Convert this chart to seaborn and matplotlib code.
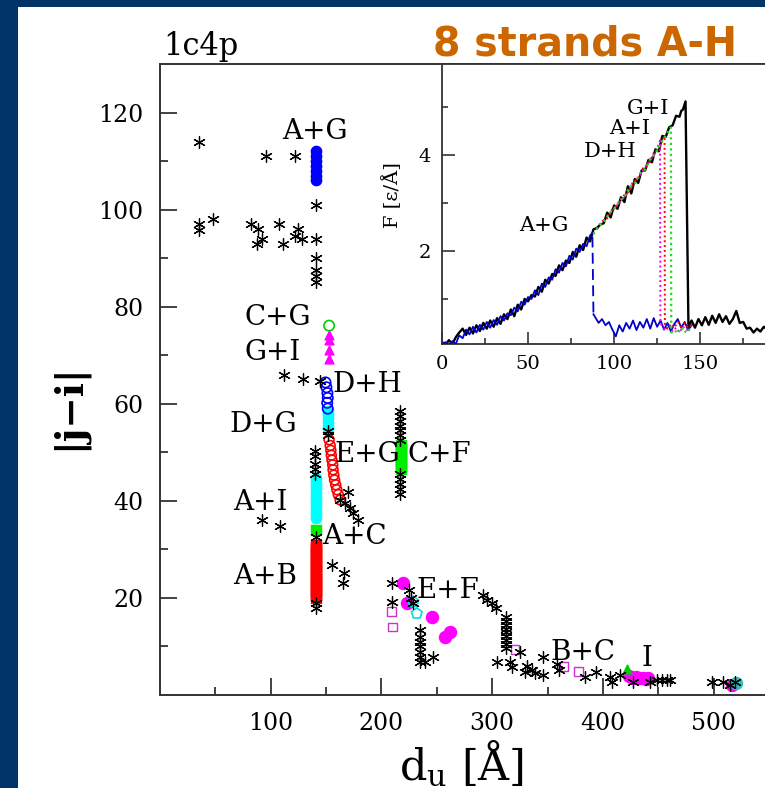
import matplotlib
matplotlib.use("Agg")
import matplotlib.pyplot as plt
from matplotlib.patches import Rectangle
from matplotlib.ticker import FixedLocator
import seaborn as sns

# ---------------- data: main panel ----------------
ast_x = [35.5, 95.5, 122, 140.6, 35, 35.5, 47.6, 82, 88.8, 92.4, 87.3, 107.8, 111.4, 122, 125, 128.6,
         140.6, 140.6, 140.6, 140.6, 140.6,
         112, 129.5, 144.5, 151.5, 152, 140, 140, 140, 140, 140,
         170, 162.6, 167, 171.6, 174.6, 179, 92, 108.4, 141,
         141, 141, 155, 166.5, 165.6, 209.3, 209.3, 225, 226.7, 228.8,
         234.9, 234.9, 234.9, 234.9, 234.9, 234.9, 234.9, 247, 239.4,
         292, 295, 299.6, 303.5,
         312.6, 312.6, 312.6, 312.6, 312.6, 312.6, 312.6, 312.6, 312.6,
         304, 316, 317.7, 325, 331, 335.8, 329.7, 338.7, 346, 345.7, 358.3, 360.7,
         384, 394, 406, 415, 408, 427.6, 442.6, 448.6, 453, 457.7, 460.7,
         498.4, 508.8, 514.9, 519.4,
         217, 217, 217, 217, 217, 217, 217, 217, 217, 217, 217, 217]
ast_y = [114, 111, 111, 101, 97, 95.8, 98, 97, 96, 94, 93, 97, 93, 94.5, 96, 94,
         94, 90, 87.5, 86.3, 85,
         66, 65, 64.6, 54.3, 53.6, 50.3, 49.3, 47.6, 46.6, 45.6,
         41.9, 40.2, 39.5, 38.5, 37.5, 36, 36, 34.8, 32.6,
         19, 17.9, 26.8, 25.1, 23, 23, 19.2, 21.6, 19.9, 18.9,
         13.4, 12, 11, 10, 8.9, 7.9, 6.9, 7.9, 6.9,
         20.5, 19.5, 18.9, 17.9,
         16.1, 15.3, 14.5, 13.7, 12.9, 12.1, 11.3, 10.5, 9.7,
         6.9, 6.9, 5.8, 8.9, 6, 5.2, 4.8, 4.6, 7.9, 4.1, 6.4, 5.2,
         3.8, 4.8, 3.8, 4.1, 2.7, 2.7, 2.7, 3.1, 3.1, 3.1, 3.1,
         2.7, 2.7, 2.1, 2.6,
         58.5, 57.5, 56.5, 55.5, 54.5, 53.5, 52.5, 45.5, 44.5, 43.5, 42.5, 41.5]

ag_x = [140.8] * 7
ag_y = [106, 107, 108, 109, 110, 111, 112]

cg_x = [152.7]
cg_y = [76.1]

gi_x = [152.7, 152.7, 152.7, 152.7]
gi_y = [69.2, 71.1, 73.2, 74.2]

dh_x = [149.5, 150.3, 151.2, 151.5, 151.0, 151.5]
dh_y = [64.4, 63.4, 62.2, 61.2, 60.2, 59.0]

dg_x = [152, 152, 152, 152, 152, 152]
dg_y = [58.6, 57.8, 57.0, 56.2, 55.4, 54.8]

ai_x = [140.5] * 12
ai_y = [44.7, 44.0, 43.3, 42.6, 41.8, 41.0, 40.2, 39.5, 38.7, 38.0, 37.2, 36.5]

eg_x = [152.7, 153.7, 154.3, 154.7, 155.3, 156.0, 156.3, 157.0, 157.7, 158.7, 159.7, 161.0, 162.7]
eg_y = [52.6, 51.4, 50.4, 49.4, 48.4, 47.4, 46.4, 45.3, 44.3, 43.3, 42.3, 41.3, 40.2]

ac_x = [140.6]
ac_y = [34.0]

ab_x = [141] * 23
ab_y = [20, 20.5, 21, 21.5, 22, 22.5, 23, 23.5, 24, 24.5, 25, 25.5, 26, 26.5, 27,
        27.5, 28, 28.5, 29, 29.5, 30, 30.5, 31]

cf_x = [217.4] * 11
cf_y = [46.5, 47, 47.5, 48, 48.5, 49, 49.5, 50, 50.5, 51, 51.5]

ef_x = [219.8, 222.8, 245.4, 257.5, 262,
        424, 427, 430, 433, 436, 439, 441, 517]
ef_y = [23, 18.9, 16, 12, 13,
        4.0, 3.6, 3.8, 3.4, 3.6, 3.2, 3.4, 2.0]

bc_x = [209.3, 210, 320.7, 364.9, 377.9]
bc_y = [17.2, 14, 9.3, 5.8, 4.8]

pent_x = [228.8, 231.9]
pent_y = [19.2, 16.8]

tri_g_x = [421.5]
tri_g_y = [5.3]

cy_end_x = [520]
cy_end_y = [2.4]

labels_main = ["A+G", "C+G", "G+I", "D+H", "D+G", "E+G", "C+F", "A+I", "A+C", "A+B", "E+F", "B+C", "I"]
labels_x = [140, 106.6, 102, 187, 93, 187, 252, 91, 176, 95, 260, 382, 440]
labels_y = [116, 77.7, 70.5, 63.9, 55.7, 49.5, 49.5, 39.6, 32.6, 24.5, 21.6, 8.7, 7.6]

main_xticks = [100, 200, 300, 400, 500]
main_yticks = [20, 40, 60, 80, 100, 120]

# ---------------- data: inset force curves ----------------
blk_x = [0, 2, 4, 6, 8, 10, 12, 14, 16, 18, 20, 22, 24, 26, 28, 30, 32, 34, 36, 38, 40, 42, 44, 46, 48,
         50, 52, 54, 56, 58, 60, 62, 64, 66, 68, 70, 72, 74, 76, 78, 80, 82, 84, 86, 88, 90, 92, 94, 96, 98,
         100, 102, 104, 106, 108, 110, 112, 114, 116, 118, 120, 122, 124, 126, 128, 130, 132, 134, 136, 138,
         139, 140, 141.5, 143.2, 145, 147, 149, 151, 153, 155, 157, 159, 161, 163, 165, 167, 169, 171, 173,
         175, 177, 179, 181, 183, 185, 187, 189, 191]
blk_y = [0.10, 0.04, 0.14, 0.06, 0.20, 0.30, 0.38, 0.25, 0.40, 0.28, 0.45, 0.33, 0.50, 0.38, 0.55, 0.42,
         0.60, 0.48, 0.68, 0.58, 0.78, 0.64, 0.88, 0.78, 1.00, 0.95, 1.08, 1.05, 1.25, 1.15, 1.40, 1.32,
         1.52, 1.48, 1.70, 1.60, 1.80, 1.75, 1.98, 1.88, 2.12, 2.02, 2.28, 2.20, 2.45, 2.48, 2.55, 2.58,
         2.80, 2.70, 2.95, 2.88, 3.12, 3.02, 3.35, 3.20, 3.50, 3.42, 3.68, 3.68, 3.90, 3.85, 4.12, 4.08,
         4.40, 4.38, 4.58, 4.62, 4.82, 4.80, 4.92, 4.95, 5.12, 0.42, 0.55, 0.40, 0.58, 0.45, 0.62, 0.46,
         0.65, 0.50, 0.68, 0.52, 0.64, 0.48, 0.58, 0.75, 0.50, 0.52, 0.38, 0.40, 0.30, 0.38, 0.32, 0.42,
         0.36, 0.44]

blu_x = [0, 2, 4, 6, 8, 10, 12, 14, 16, 18, 20, 22, 24, 26, 28, 30, 32, 34, 36, 38, 40, 42, 44, 46, 48,
         50, 52, 54, 56, 58, 60, 62, 64, 66, 68, 70, 72, 74, 76, 78, 80, 82, 84, 86, 87.3]
blu_y = [0.04, 0.10, 0.03, 0.12, 0.06, 0.24, 0.18, 0.36, 0.26, 0.42, 0.30, 0.46, 0.36, 0.52, 0.40,
         0.56, 0.46, 0.64, 0.55, 0.70, 0.66, 0.82, 0.74, 0.94, 0.88, 1.04, 1.00, 1.18, 1.08, 1.32, 1.25,
         1.45, 1.40, 1.62, 1.55, 1.75, 1.68, 1.90, 1.82, 2.05, 1.98, 2.15, 2.10, 2.32, 2.38]
blu_drop_x = [87.4, 88.0]
blu_drop_y = [2.30, 0.68]
blu2_x = [88, 89, 91, 93, 95, 97, 99, 101, 103, 105, 107, 109, 111, 113, 115, 117, 119, 121, 123, 125,
          127, 129, 131, 133, 135, 137, 139, 141, 143, 145]
blu2_y = [0.68, 0.62, 0.50, 0.58, 0.45, 0.52, 0.36, 0.22, 0.45, 0.32, 0.50, 0.38, 0.55, 0.35, 0.52,
          0.40, 0.58, 0.38, 0.60, 0.42, 0.55, 0.36, 0.50, 0.32, 0.48, 0.58, 0.40, 0.52, 0.35, 0.45]

grn_x = [88, 91, 94, 97, 100, 103, 106, 109, 112, 115, 118, 121, 124, 127, 130, 133, 133.2, 135, 137,
         139, 141, 143, 145]
grn_y = [2.35, 2.52, 2.60, 2.78, 2.88, 3.04, 3.12, 3.34, 3.40, 3.62, 3.70, 3.92, 4.02, 4.24, 4.40,
         4.58, 0.30, 0.35, 0.28, 0.40, 0.30, 0.38, 0.30]
red_x = [90, 93, 96, 99, 102, 105, 108, 111, 114, 117, 120, 123, 126, 129.3, 129.5, 131, 133, 135,
         137, 139, 141, 143, 145]
red_y = [2.45, 2.62, 2.68, 2.88, 2.95, 3.14, 3.22, 3.44, 3.50, 3.74, 3.80, 4.04, 4.12, 4.40, 0.45,
         0.38, 0.48, 0.40, 0.52, 0.42, 0.50, 0.40, 0.45]
mag_x = [92, 96, 100, 104, 108, 112, 116, 120, 124, 126.7, 126.9, 128, 130, 132, 134, 136, 138, 140,
         142, 144]
mag_y = [2.55, 2.72, 2.88, 3.05, 3.22, 3.45, 3.62, 3.85, 4.05, 4.30, 0.50, 0.42, 0.35, 0.45, 0.32,
         0.40, 0.30, 0.42, 0.35, 0.40]

labels_inset = ["G+I", "A+I", "D+H", "A+G"]
labels_inset_x = [120, 109, 97.7, 59]
labels_inset_y = [4.97, 4.56, 4.07, 2.54]

# ---------------- figure ----------------
W, H = 765, 788
fig = plt.figure(figsize=(W / 100, H / 100), dpi=100, facecolor="#003366")
fig.patches.append(Rectangle((18 / W, 0), 1, 781 / H, transform=fig.transFigure,
                             facecolor="white", edgecolor="none", zorder=-10))

SERIF = ["DejaVu Serif"]
plt.rcParams["font.family"] = SERIF
plt.rcParams["mathtext.fontset"] = "dejavuserif"


def px_ax(l, t, r, b):
    return [l / W, 1 - b / H, (r - l) / W, (b - t) / H]


ax = fig.add_axes(px_ax(160, 64, 769, 695))
ax.set_zorder(1)
ax.set_xlim(0, 550)
ax.set_ylim(0, 130)

AST = (6, 2, 0)


def pts(axis, xs, ys, marker, color, s, open_=False, lw=1.0, z=3):
    if open_:
        sns.scatterplot(x=xs, y=ys, ax=axis, marker=marker, s=s, color=color,
                        facecolor="none", edgecolor=color, linewidth=lw, legend=False, zorder=z)
    else:
        sns.scatterplot(x=xs, y=ys, ax=axis, marker=marker, s=s, color=color,
                        edgecolor=color, linewidth=lw, legend=False, zorder=z)


pts(ax, ab_x, ab_y, "s", "#ff0000", 55)
pts(ax, ai_x, ai_y, "o", "#00ffff", 55)
pts(ax, dg_x, dg_y, "o", "#00ffff", 55)
pts(ax, eg_x, eg_y, "o", "#ff0000", 50, open_=True, lw=1.2)
pts(ax, dh_x, dh_y, "o", "#0000ff", 55, open_=True, lw=1.2)
pts(ax, ag_x, ag_y, "o", "#0000ff", 55)
pts(ax, gi_x, gi_y, "^", "#ff00ff", 40)
pts(ax, cg_x, cg_y, "o", "#00cc00", 55, open_=True, lw=1.2)
pts(ax, ac_x, ac_y, "s", "#00ee00", 45)
pts(ax, cf_x, cf_y, "s", "#00ee00", 50)
pts(ax, ef_x, ef_y, "o", "#ff00ff", 75)
pts(ax, bc_x, bc_y, "s", "#cc33cc", 40, open_=True, lw=1.0)
pts(ax, pent_x, pent_y, "p", "#00dddd", 65, open_=True, lw=1.2)
pts(ax, tri_g_x, tri_g_y, "^", "#00cc00", 40)
pts(ax, cy_end_x, cy_end_y, "o", "#33bbbb", 75)
sns.scatterplot(x=ast_x, y=ast_y, ax=ax, marker=AST, s=70, color="black",
                edgecolor="black", linewidth=0.9, legend=False, zorder=4)

for t, x, y in zip(labels_main, labels_x, labels_y):
    ax.text(x, y, t, ha="center", va="center", fontsize=20, family=SERIF, zorder=5)

ax.xaxis.set_major_locator(FixedLocator(main_xticks))
ax.xaxis.set_minor_locator(FixedLocator([50, 150, 250, 350, 450]))
ax.yaxis.set_major_locator(FixedLocator(main_yticks))
ax.yaxis.set_minor_locator(FixedLocator([10, 30, 50, 70, 90, 110]))
ax.tick_params(which="both", direction="in", width=1.3, colors="#333333", labelcolor="black")
ax.tick_params(which="major", length=12, labelsize=17, pad=12)
ax.tick_params(which="minor", length=6)
for sp in ax.spines.values():
    sp.set_linewidth(1.4)
    sp.set_color("#333333")
ax.set_xlabel("")
ax.set_ylabel("")

# ---------------- inset ----------------
axi = fig.add_axes(px_ax(442, 64, 769, 344))
axi.set_zorder(2)
axi.set_facecolor("white")
axi.set_xlim(0, 190)
axi.set_ylim(0.06, 5.9)

sns.lineplot(x=blk_x, y=blk_y, ax=axi, color="black", linewidth=1.7, sort=False, estimator=None, zorder=2)
sns.lineplot(x=blu_x, y=blu_y, ax=axi, color="#0000cc", linewidth=1.3, sort=False, estimator=None, zorder=3)
sns.lineplot(x=blu_drop_x, y=blu_drop_y, ax=axi, color="#0000cc", linewidth=1.3, sort=False,
             estimator=None, linestyle=(0, (6, 3)), zorder=3)
sns.lineplot(x=blu2_x, y=blu2_y, ax=axi, color="#0000cc", linewidth=1.3, sort=False, estimator=None, zorder=3)
sns.lineplot(x=mag_x, y=mag_y, ax=axi, color="#ee00ee", linewidth=1.4, sort=False, estimator=None,
             linestyle=(0, (1, 1.5)), zorder=4)
sns.lineplot(x=red_x, y=red_y, ax=axi, color="#ff0000", linewidth=1.4, sort=False, estimator=None,
             linestyle=(0, (1, 1.5)), zorder=4)
sns.lineplot(x=grn_x, y=grn_y, ax=axi, color="#22dd22", linewidth=1.6, sort=False, estimator=None,
             linestyle=(0, (1, 1.5)), zorder=4)

for t, x, y in zip(labels_inset, labels_inset_x, labels_inset_y):
    axi.text(x, y, t, ha="center", va="center", fontsize=15, family=SERIF, zorder=5)

axi.xaxis.set_major_locator(FixedLocator([0, 50, 100, 150]))
axi.xaxis.set_minor_locator(FixedLocator([25, 75, 125, 175]))
axi.yaxis.set_major_locator(FixedLocator([2, 4]))
axi.yaxis.set_minor_locator(FixedLocator([1, 3, 5]))
axi.tick_params(which="both", direction="in", width=1.2, colors="#333333", labelcolor="black")
axi.tick_params(which="major", length=9, labelsize=14, pad=8)
axi.tick_params(which="minor", length=4.5)
for sp in axi.spines.values():
    sp.set_linewidth(1.3)
    sp.set_color("#333333")
axi.set_xlabel("")
axi.set_ylabel("")
fig.text(392 / W, 1 - 195 / H, "F [ε/Å]", rotation=90, ha="center", va="center",
         fontsize=14, family=SERIF)

# ---------------- figure texts ----------------
fig.text(163 / W, 1 - 55 / H, "1c4p", ha="left", va="baseline", fontsize=22, family=SERIF)
fig.text(585 / W, 1 - 55 / H, "8 strands A-H", ha="center", va="baseline", fontsize=28.5,
         fontweight="bold", color="#cc6600", family=["DejaVu Sans"])
fig.text(68 / W, 1 - 407 / H, "|j−i|", rotation=90, ha="center", va="center", fontsize=27,
         fontweight="bold", family=SERIF)
fig.text(462 / W, 1 - 763 / H, r"$\mathregular{d_u}$ [Å]", ha="center", va="center", fontsize=31,
         family=SERIF)

fig.savefig("out.png", dpi=100)
